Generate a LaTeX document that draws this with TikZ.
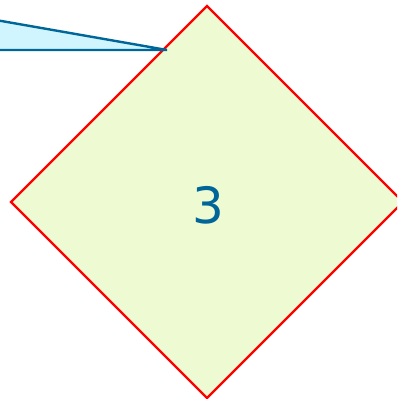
\documentclass[tikz,border=0pt]{standalone}
\usepackage{fontspec}
\setmainfont{DejaVu Sans}
\definecolor{dblue}{HTML}{006699}
\definecolor{cfill}{HTML}{D0F5FF}
\definecolor{gfill}{HTML}{EEFAD2}
\definecolor{dred}{HTML}{FF0000}
\tikzset{
  decision/.style={draw=dred, fill=gfill, line width=2.4pt, line join=miter},
  callout/.style={draw=dblue, fill=cfill, line width=2.4pt, line join=miter},
  numlabel/.style={text=dblue, font=\fontsize{50}{60}\selectfont, inner sep=0pt}
}
\begin{document}
\begin{tikzpicture}[x=1pt,y=-1pt]
\useasboundingbox (0,0) rectangle (397,399);
\begin{scope}
\clip (0,0) rectangle (397,399);
\coordinate (dt) at (207,6);
\coordinate (dr) at (403,202);
\coordinate (db) at (207,398);
\coordinate (dl) at (11,202);
\draw[decision] (dt) -- (dr) -- (db) -- (dl) -- cycle;
\node[numlabel] (n3) at (208,205) {3};
\coordinate (ctl) at (-10,19);
\coordinate (ctip) at (167,50);
\coordinate (cbl) at (-10,50);
\fill[cfill] (ctl) -- (ctip) -- (cbl) -- cycle;
\draw[callout, fill=none] (ctl) -- (ctip) -- (cbl);
\end{scope}
\end{tikzpicture}
\end{document}
